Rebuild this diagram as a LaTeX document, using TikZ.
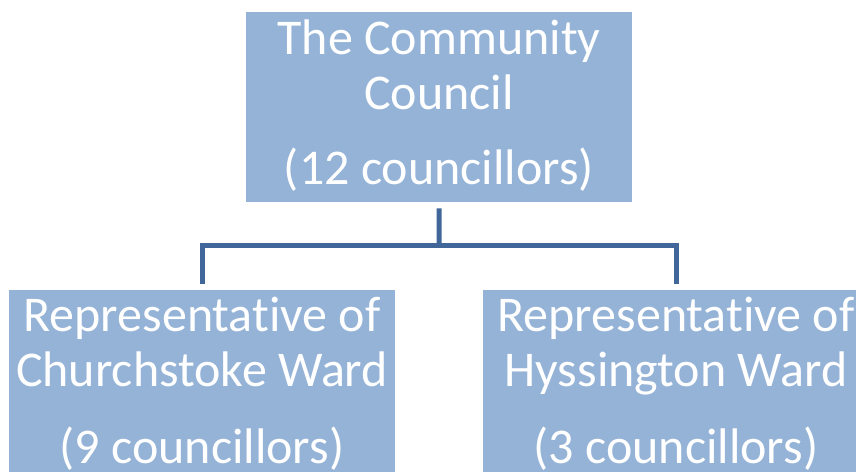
\documentclass[tikz,border=0pt]{standalone}
\usepackage{fontspec}
\setmainfont[Ligatures={NoCommon}]{Carlito}
\definecolor{boxfill}{HTML}{95B3D7}
\definecolor{linkcol}{HTML}{41679A}
\tikzset{
  box/.style={fill=boxfill, draw=none, inner sep=0pt, minimum width=386bp, minimum height=190bp, anchor=north west},
  txt/.style={text=white, font=\fontsize{50bp}{55bp}\selectfont, anchor=base, inner sep=0pt},
  link/.style={draw=linkcol, line width=5bp}
}
\begin{document}
\begin{tikzpicture}[x=1bp,y=-1bp]
\useasboundingbox (0,0) rectangle (856,472);
\clip (0,0) rectangle (856,472);
\node[box] (top) at (246,12) {};
\node[box] (left) at (9,290) {};
\node[box] (right) at (483,290) {};
\node[txt] (t1) at (439,55) {The Community};
\node[txt] (t2) at (439,110) {Council};
\node[txt] (t3) at (439,185) {(12 councillors)};
\node[txt] (l1) at (202,332) {Representative of};
\node[txt] (l2) at (202,387) {Churchstoke Ward};
\node[txt] (l3) at (202,463) {(9 councillors)};
\node[txt] (r1) at (676,332) {Representative of};
\node[txt] (r2) at (676,387) {Hyssington Ward};
\node[txt] (r3) at (676,463) {(3 councillors)};
\coordinate (j) at (439,246);
\draw[link] ([yshift=-6bp]top.south) -- (j);
\draw[link] ([yshift=6bp]left.north) |- (j) -| ([yshift=6bp]right.north);
\end{tikzpicture}
\end{document}
